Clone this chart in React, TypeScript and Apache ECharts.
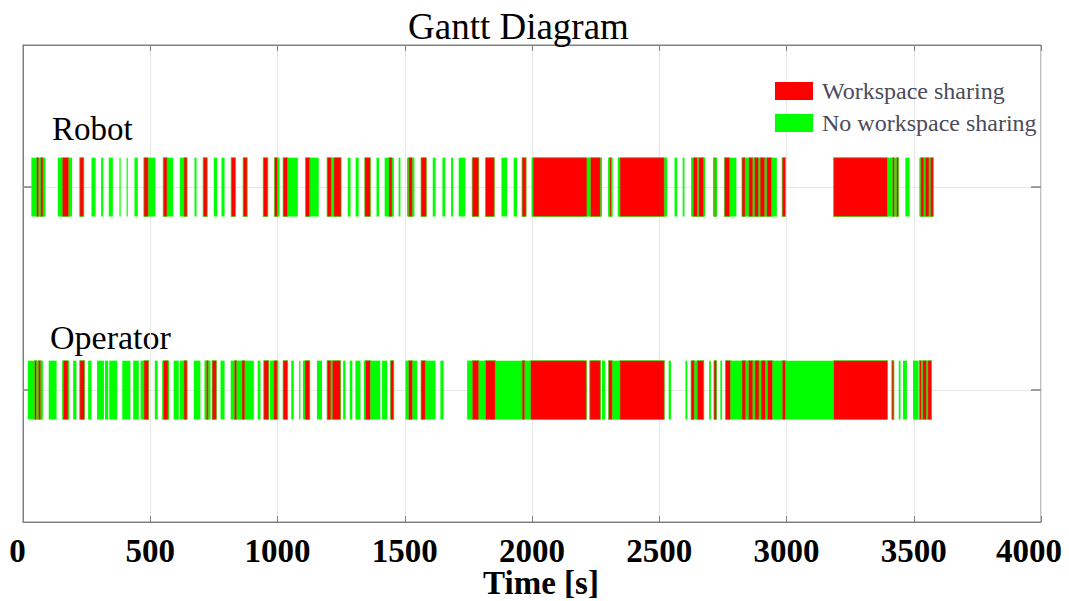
import React, { useEffect, useRef } from "react";
import * as echarts from "echarts";

// Row categories (value used on the y axis: 1 = Robot, 2 = Operator)
const rowNames = ["Robot", "Operator"];
const rowValues = [1, 2];

// Time axis
const timeMin = 0;
const timeMax = 4000;
const timeStep = 500;

// Segments [start s, end s]
const robotSharing: [number, number][] = [
  [53, 62], [69, 79], [154, 180], [223, 239], [475, 492], [551, 566], [632, 645], [708, 724],
  [818, 835], [865, 881], [944, 962], [988, 1000], [1022, 1040], [1110, 1127], [1195, 1212],
  [1221, 1250], [1343, 1365], [1438, 1450], [1515, 1530], [1564, 1585], [1765, 1791], [1817, 1852],
  [1961, 1977], [2004, 2216], [2229, 2269], [2305, 2312], [2345, 2520], [2633, 2650], [2655, 2675],
  [2717, 2722], [2756, 2777], [2825, 2838], [2852, 2868], [2874, 2890], [2896, 2915], [2922, 2942],
  [2983, 2996], [3185, 3397], [3416, 3424], [3432, 3440], [3527, 3540], [3545, 3560], [3565, 3577],
];

const robotFree: [number, number][] = [
  [33, 53], [62, 69], [79, 88], [137, 154], [180, 193], [269, 285], [307, 315], [337, 353],
  [379, 383], [407, 411], [438, 451], [492, 520], [566, 590], [616, 632], [674, 682], [750, 763],
  [780, 792], [1000, 1008], [1040, 1080], [1127, 1162], [1212, 1221], [1276, 1287], [1307, 1319],
  [1389, 1399], [1421, 1438], [1450, 1457], [1476, 1483], [1509, 1515], [1530, 1538], [1610, 1621],
  [1648, 1659], [1682, 1690], [1712, 1738], [1880, 1902], [1928, 1941], [1998, 2004], [2216, 2229],
  [2269, 2275], [2299, 2305], [2312, 2317], [2337, 2345], [2520, 2531], [2560, 2570], [2592, 2599],
  [2625, 2633], [2650, 2655], [2675, 2680], [2711, 2717], [2722, 2727], [2777, 2803], [2838, 2852],
  [2868, 2874], [2890, 2896], [2915, 2922], [2942, 2962], [3397, 3416], [3424, 3432], [3467, 3484],
  [3522, 3527], [3540, 3545], [3560, 3565],
];

const operatorSharing: [number, number][] = [
  [45, 53], [60, 70], [158, 177], [223, 242], [475, 494], [551, 570], [632, 645], [720, 728],
  [743, 760], [830, 840], [860, 872], [946, 966], [985, 999], [1022, 1040], [1108, 1127],
  [1195, 1210], [1215, 1248], [1345, 1365], [1444, 1457], [1515, 1530], [1564, 1581], [1765, 1791],
  [1817, 1856], [1961, 1972], [1994, 2214], [2227, 2269], [2301, 2315], [2345, 2520], [2625, 2638],
  [2649, 2675], [2715, 2725], [2760, 2780], [2825, 2840], [2850, 2868], [2876, 2892], [2900, 2918],
  [2925, 2945], [2983, 2996], [3185, 3397], [3414, 3422], [3522, 3530], [3535, 3550], [3555, 3570],
];

const operatorFree: [number, number][] = [
  [19, 45], [53, 60], [70, 78], [101, 132], [154, 158], [177, 180], [197, 210], [256, 269],
  [291, 318], [322, 335], [339, 370], [390, 422], [433, 455], [462, 475], [518, 529], [547, 551],
  [570, 573], [592, 612], [616, 632], [671, 697], [713, 720], [728, 737], [776, 792], [816, 830],
  [840, 860], [872, 907], [922, 933], [970, 985], [999, 1004], [1054, 1064], [1085, 1090],
  [1100, 1108], [1155, 1175], [1210, 1215], [1258, 1267], [1284, 1294], [1306, 1326], [1339, 1345],
  [1365, 1404], [1411, 1431], [1503, 1515], [1530, 1549], [1581, 1621], [1640, 1653], [1745, 1765],
  [1791, 1817], [1856, 1961], [1972, 1994], [2275, 2288], [2315, 2345], [2537, 2546], [2603, 2610],
  [2638, 2649], [2696, 2703], [2740, 2747], [2780, 2825], [2840, 2850], [2868, 2876], [2892, 2900],
  [2918, 2925], [2945, 2983], [2996, 3185], [3441, 3448], [3458, 3473], [3497, 3519], [3530, 3535],
  [3550, 3555],
];

const SHARING_NAME = "Workspace sharing";
const FREE_NAME = "No workspace sharing";
const RED = "#ff0000";
const GREEN = "#00ff00";
const SERIF = "'Liberation Serif', 'DejaVu Serif', serif";

function toItems(segs: [number, number][], row: number) {
  return segs.map(([s, e]) => [s, e, row]);
}

function makeRender(fill: string, stroke: string | null) {
  return (params: any, api: any) => {
    const row = api.value(2);
    const start = api.coord([api.value(0), row]);
    const end = api.coord([api.value(1), row]);
    const h = api.size([0, 0.29])[1];
    const w = Math.max(end[0] - start[0], 1.2);
    return {
      type: "rect",
      shape: { x: start[0], y: start[1] - h / 2, width: w, height: h },
      style: stroke ? { fill, stroke, lineWidth: 1 } : { fill },
    };
  };
}

export default function App() {
  const ref = useRef<HTMLDivElement>(null);

  useEffect(() => {
    if (!ref.current) return;
    const chart = echarts.init(ref.current, undefined, { renderer: "svg" });
    const axisGray = "#808080";
    const labelFont = { fontFamily: SERIF, fontSize: 33, fontWeight: "bold", color: "#000" };
    // short row tick marks at both plot edges (axis decoration)
    const tickLen = (timeMax - timeMin) * 0.0098;
    const rowTicks: any[] = [];
    rowValues.forEach((v) => {
      rowTicks.push([{ coord: [timeMin, v] }, { coord: [timeMin + tickLen, v] }]);
      rowTicks.push([{ coord: [timeMax - tickLen, v] }, { coord: [timeMax, v] }]);
    });
    const option: any = {
      animation: false,
      backgroundColor: "#ffffff",
      title: {
        text: "Gantt Diagram",
        left: 403,
        top: 3,
        textStyle: { fontFamily: SERIF, fontSize: 37, fontWeight: "normal", color: "#000" },
      },
      legend: {
        data: [SHARING_NAME, FREE_NAME],
        orient: "vertical",
        left: 770,
        top: 74,
        itemWidth: 38,
        itemHeight: 18,
        itemGap: 8,
        icon: "rect",
        textStyle: { fontFamily: SERIF, fontSize: 24, color: "#4b4b5a", lineHeight: 18, padding: [0, 0, 0, 4] },
      },
      grid: {
        left: 23,
        right: 28,
        top: 45,
        bottom: 79,
        show: true,
        borderColor: axisGray,
        borderWidth: 1,
        outerBoundsMode: "none",
        containLabel: false,
      },
      xAxis: [
        {
          type: "value",
          min: timeMin,
          max: timeMax,
          interval: timeStep,
          name: "Time [s]",
          nameLocation: "middle",
          nameGap: 47,
          nameMoveOverlap: false,
          nameTextStyle: {
            fontFamily: SERIF,
            fontSize: 33,
            lineHeight: 28,
            fontWeight: "bold",
            color: "#000",
            padding: [0, 0, 0, 18],
          },
          axisLine: { show: true, lineStyle: { color: axisGray } },
          axisTick: { show: true, inside: true, length: 6, lineStyle: { color: axisGray } },
          axisLabel: {
            ...labelFont,
            margin: 12,
            formatter: (v: number) =>
              v === timeMax ? `{last|${v}}` : v === timeMin ? `{first|${v}}` : String(v),
            rich: {
              first: { ...labelFont, padding: [0, 11, 0, 0] },
              last: { ...labelFont, padding: [0, 24, 0, 0] },
            },
          },
          splitLine: { show: true, lineStyle: { color: "#e6e6e6" } },
        },
        {
          type: "value",
          position: "top",
          min: timeMin,
          max: timeMax,
          interval: timeStep,
          axisLine: { show: true, lineStyle: { color: axisGray } },
          axisTick: { show: true, inside: true, length: 6, lineStyle: { color: axisGray } },
          axisLabel: { show: false },
          splitLine: { show: false },
        },
      ],
      yAxis: [
        {
          type: "value",
          inverse: true,
          min: 0.3,
          max: 2.65,
          axisLine: { show: true, lineStyle: { color: axisGray } },
          axisTick: { show: false },
          axisLabel: { show: false },
          splitLine: { show: false },
        },
      ],
      graphic: [
        {
          type: "text",
          left: 52,
          top: 112,
          style: { text: rowNames[0], fontFamily: SERIF, fontSize: 33, fill: "#000" },
        },
        {
          type: "text",
          left: 50,
          top: 320,
          style: { text: rowNames[1], fontFamily: SERIF, fontSize: 34, fill: "#000" },
        },
      ],
      series: [
        {
          type: "custom",
          name: FREE_NAME,
          xAxisIndex: 0,
          yAxisIndex: 0,
          itemStyle: { color: GREEN },
          renderItem: makeRender(GREEN, null),
          encode: { x: [0, 1], y: 2 },
          data: [...toItems(robotFree, rowValues[0]), ...toItems(operatorFree, rowValues[1])],
          markLine: {
            silent: true,
            symbol: "none",
            z: 1,
            label: { show: false },
            lineStyle: { color: "#e6e6e6", type: "solid", width: 1 },
            data: [
              ...rowValues.map((v) => ({ yAxis: v })),
              ...rowTicks.map((seg) => [
                { ...seg[0], lineStyle: { color: axisGray, width: 1.5, type: "solid" } },
                seg[1],
              ]),
            ],
          },
        },
        {
          type: "custom",
          name: SHARING_NAME,
          xAxisIndex: 0,
          yAxisIndex: 0,
          itemStyle: { color: RED },
          renderItem: makeRender(RED, "rgba(60,200,0,0.75)"),
          encode: { x: [0, 1], y: 2 },
          data: [...toItems(robotSharing, rowValues[0]), ...toItems(operatorSharing, rowValues[1])],
        },
      ],
    };
    chart.setOption(option);
    return () => chart.dispose();
  }, []);

  return (
    <div
      ref={ref}
      style={{ position: "fixed", left: 0, top: 0, width: 1069, height: 601, background: "#fff" }}
    />
  );
}
